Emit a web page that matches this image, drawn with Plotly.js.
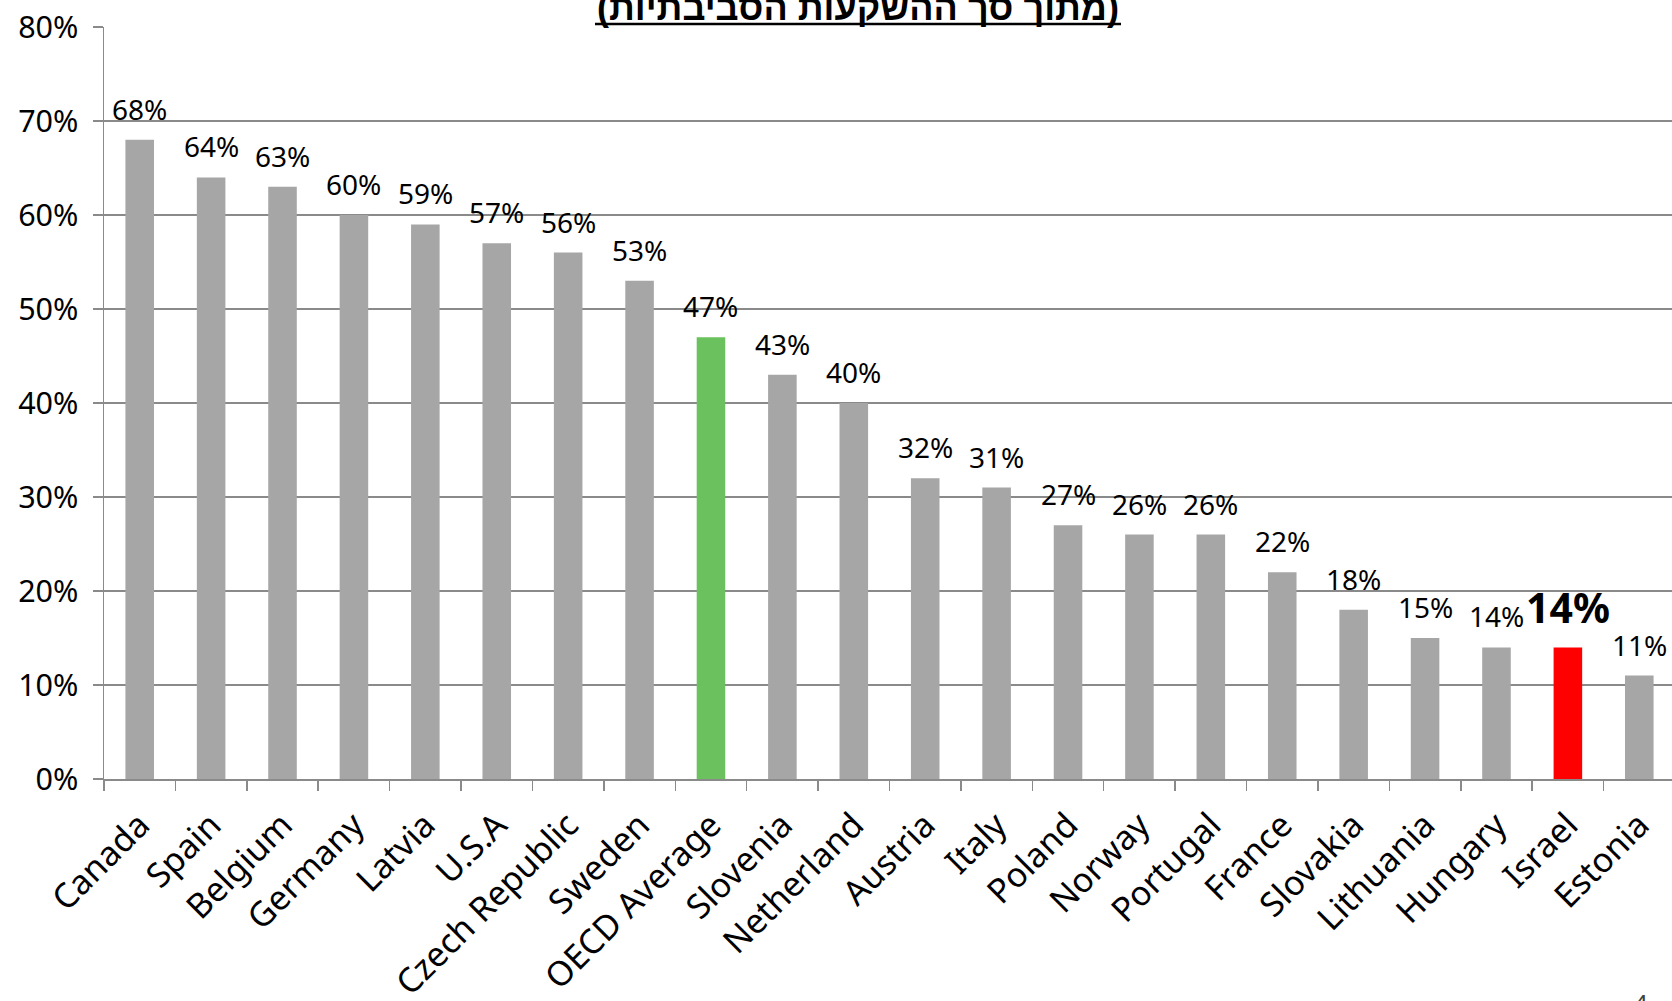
<!DOCTYPE html>
<html>
<head>
<meta charset="utf-8">
<script src="https://cdn.plot.ly/plotly-3.0.1.min.js"></script>
<style>
  html, body { margin: 0; padding: 0; overflow: hidden; background: #fff; }
  #chart { width: 1680px; height: 1001px; }
</style>
</head>
<body>
<div id="chart"></div>
<script>
// ---- data ----
const countries = ["Canada", "Spain", "Belgium", "Germany", "Latvia", "U.S.A", "Czech Republic", "Sweden",
  "OECD Average", "Slovenia", "Netherland", "Austria", "Italy", "Poland", "Norway", "Portugal",
  "France", "Slovakia", "Lithuania", "Hungary", "Israel", "Estonia"];
const shares = [0.68, 0.64, 0.63, 0.60, 0.59, 0.57, 0.56, 0.53, 0.47, 0.43, 0.40, 0.32, 0.31, 0.27,
  0.26, 0.26, 0.22, 0.18, 0.15, 0.14, 0.14, 0.11];
const yTickVals = [0, 0.1, 0.2, 0.3, 0.4, 0.5, 0.6, 0.7, 0.8];
const yTickText = ["0%", "10%", "20%", "30%", "40%", "50%", "60%", "70%", "80%"];
const titleText = "(מתוך סך ההשקעות הסביבתיות)";
const pageNumber = "4";

// ---- styling ----
const GRAY = "#a6a6a6", GREEN = "#6bc15d", RED = "#ff0000";
const colors = countries.map(c => c === "Israel" ? RED : (c === "OECD Average" ? GREEN : GRAY));

const W = 1680, H = 1001;
const M = {l: 104, r: 5, t: 27, b: 222};
const plotH = H - M.t - M.b;
const plotW = W - M.l - M.r;
const pxToPaperY = py => (H - M.b - py) / plotH;
const pxToPaperX = px => (px - M.l) / plotW;

const FONT = "Noto Sans, Open Sans, sans-serif";

const labelAnnotations = countries.map((c, i) => {
  const isIsrael = c === "Israel";
  return {
    x: c, y: shares[i], xref: "x", yref: "y",
    text: isIsrael ? "<b>" + Math.round(shares[i] * 100) + "%</b>" : Math.round(shares[i] * 100) + "%",
    showarrow: false, yanchor: "bottom", xanchor: "center", yshift: 10,
    font: {family: FONT, size: isIsrael ? 41 : 28, color: "#000"}
  };
});

const titleAnn = {
  xref: "paper", yref: "paper", x: pxToPaperX(858), y: pxToPaperY(30), yanchor: "bottom", xanchor: "center",
  showarrow: false, text: "<b>" + titleText + "</b>",
  font: {family: "Liberation Sans, Arial, DejaVu Sans, sans-serif", size: 36, color: "#000"}
};
const pageAnn = {
  xref: "paper", yref: "paper", x: pxToPaperX(1641), y: pxToPaperY(984), yanchor: "top", xanchor: "center",
  showarrow: false, text: pageNumber, font: {family: FONT, size: 24, color: "#404040"}
};

const trace = {
  type: "bar", x: countries, y: shares,
  marker: {color: colors},
  hoverinfo: "x+y"
};

const layout = {
  width: W, height: H,
  margin: M,
  paper_bgcolor: "#fff", plot_bgcolor: "#fff",
  bargap: 0.6,
  showlegend: false,
  font: {family: FONT, color: "#000"},
  xaxis: {
    type: "category",
    tickangle: -45,
    tickfont: {family: FONT, size: 34, color: "#000"},
    ticks: "outside", tickson: "boundaries", ticklen: 10, tickwidth: 1.5, tickcolor: "#8a8a8a",
    ticklabelstandoff: 11,
    showline: true, linecolor: "#8a8a8a", linewidth: 1.5,
    showgrid: false, zeroline: false, fixedrange: true
  },
  yaxis: {
    range: [0, 0.8],
    tickvals: yTickVals, ticktext: yTickText,
    tickfont: {family: FONT, size: 30.5, color: "#000"},
    ticks: "outside", ticklen: 10, tickwidth: 1.5, tickcolor: "#8a8a8a",
    ticklabelstandoff: 8,
    showline: true, linecolor: "#8a8a8a", linewidth: 1.5,
    showgrid: true, gridcolor: "#8a8a8a", gridwidth: 1.5,
    zeroline: false, fixedrange: true
  },
  annotations: labelAnnotations.concat([titleAnn, pageAnn]),
  shapes: [{
    type: "line", xref: "paper", yref: "paper",
    x0: pxToPaperX(595), x1: pxToPaperX(1121), y0: pxToPaperY(24), y1: pxToPaperY(24),
    line: {color: "#000", width: 2.5}
  }]
};

Plotly.newPlot("chart", [trace], layout, {displayModeBar: false, staticPlot: true});
</script>
</body>
</html>
